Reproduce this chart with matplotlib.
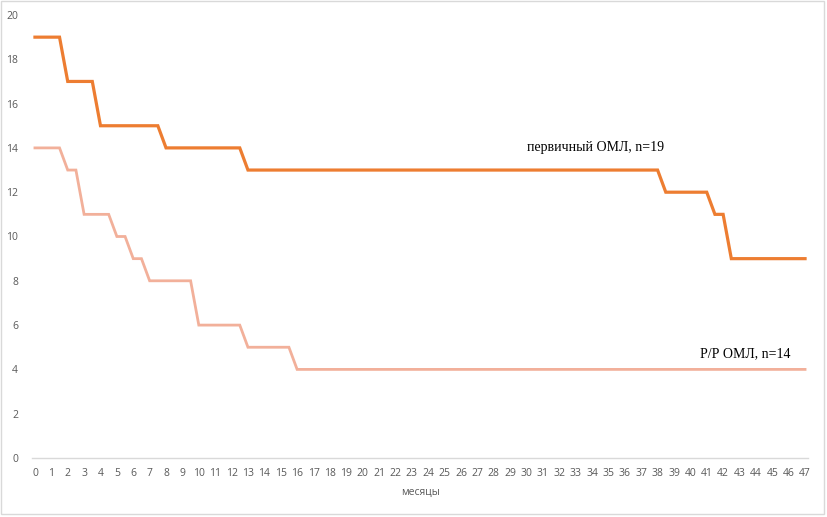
import matplotlib.pyplot as plt
from matplotlib.patches import Rectangle

# месяцы и число пациентов (точки излома ступенчатых кривых)
months_primary = [0, 1.5, 2, 3.5, 4, 7.5, 8, 12.5, 13, 38, 38.5, 41, 41.5, 42, 42.5, 47]
values_primary = [19, 19, 17, 17, 15, 15, 14, 14, 13, 13, 12, 12, 11, 11, 9, 9]

months_rr = [0, 1.5, 2, 2.5, 3, 4.5, 5, 5.5, 6, 6.5, 7, 9.5, 10, 12.5, 13, 15.5, 16, 47]
values_rr = [14, 14, 13, 13, 11, 11, 10, 10, 9, 9, 8, 8, 6, 6, 5, 5, 4, 4]

x_ticks = list(range(0, 48))
y_ticks = list(range(0, 21, 2))

label_primary = "первичный ОМЛ, n=19"
label_rr = "Р/Р ОМЛ, n=14"
x_label = "месяцы"

W, H = 827, 517
fig = plt.figure(figsize=(W / 100, H / 100), dpi=100)
ax = fig.add_axes([32 / W, (H - 458) / H, (808 - 32) / W, (458 - 15) / H])

ax.plot(months_primary, values_primary, color="#ED7D31", lw=2.3, solid_joinstyle="miter")
ax.plot(months_rr, values_rr, color="#F2B09A", lw=2.0, solid_joinstyle="miter")

ax.set_xlim(-0.18, 47.18)
ax.set_ylim(0, 20)
ax.set_xticks(x_ticks)
ax.set_yticks(y_ticks)

for s in ["top", "right", "left"]:
    ax.spines[s].set_visible(False)
ax.spines["bottom"].set_color("#D9D9D9")
ax.spines["bottom"].set_linewidth(1.0)

ax.tick_params(axis="both", length=0, labelsize=7.5, labelcolor="#595959")
ax.tick_params(axis="x", pad=7)
ax.tick_params(axis="y", pad=10)
for lab in ax.get_xticklabels() + ax.get_yticklabels():
    lab.set_fontfamily("Open Sans")

ax.set_xlabel(x_label, fontsize=7.5, color="#595959", fontfamily="Open Sans", labelpad=6)

# подписи кривых
ax.text(38.4, 14.0, label_primary, fontsize=10, fontfamily="Liberation Serif",
        ha="right", va="center", color="#000000")
ax.text(46.1, 4.7, label_rr, fontsize=10, fontfamily="Liberation Serif",
        ha="right", va="center", color="#000000")

# рамка области диаграммы
fig.patches.append(Rectangle((0.5 / W, 3.5 / H), (W - 4) / W, (H - 4) / H,
                             transform=fig.transFigure, fill=False,
                             edgecolor="#D9D9D9", lw=1.0))

fig.savefig("out.png", dpi=100)
